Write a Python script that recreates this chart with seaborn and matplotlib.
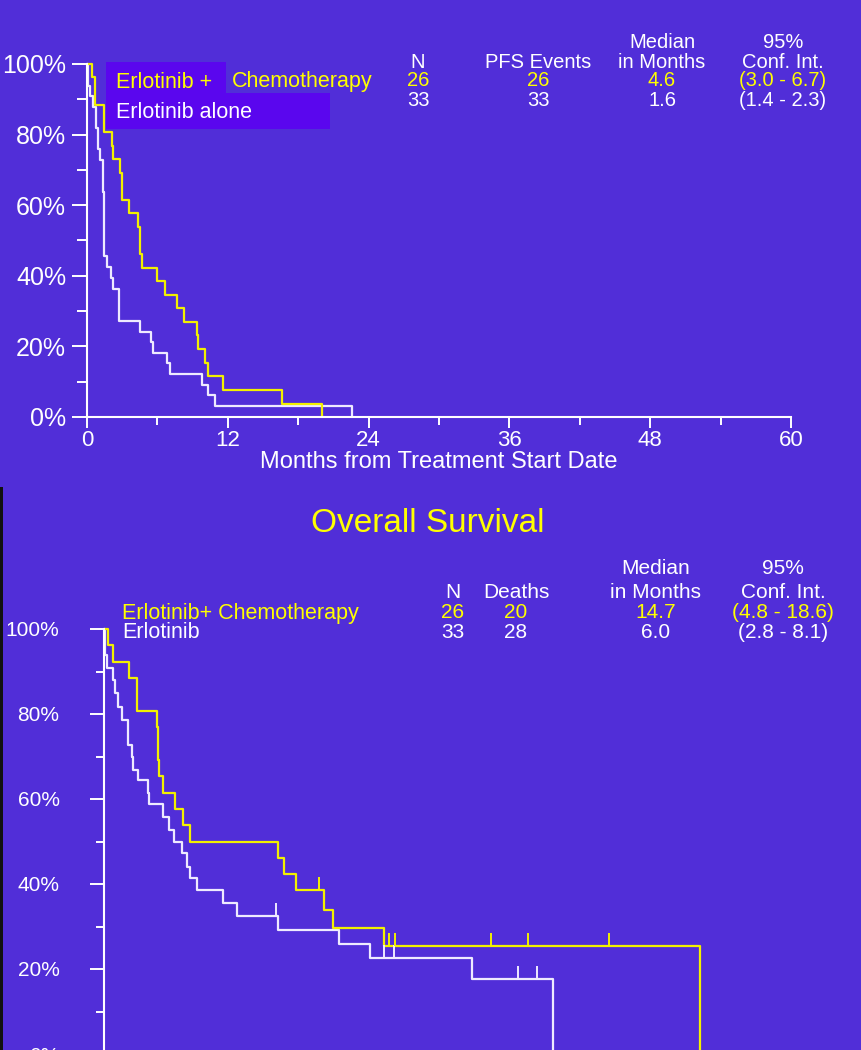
import numpy as np
import pandas as pd
import matplotlib
matplotlib.use("Agg")
import matplotlib.pyplot as plt
from matplotlib.patches import Rectangle
import seaborn as sns

# --- Data: progression free survival (top) ---
pfs_combo_months = [0, 0.45, 0.68, 1.45, 2.1, 2.25, 2.8, 2.95, 3.6, 4.37, 4.5, 4.7, 6.0, 6.65,
                    7.7, 8.3, 9.35, 9.5, 10.05, 10.3, 11.6, 16.6, 20.0]
pfs_combo_pct = [100, 96.2, 88.5, 80.8, 76.9, 73.1, 69.2, 61.5, 57.7, 53.8, 46.2, 42.3, 38.5, 34.6,
                 30.8, 26.9, 23.1, 19.2, 15.4, 11.5, 7.7, 3.8, 0]
pfs_alone_months = [0, 0.05, 0.25, 0.55, 0.75, 0.95, 1.15, 1.33, 1.45, 1.7, 2.05, 2.2, 2.75, 4.5,
                    5.45, 5.6, 6.8, 7.05, 9.8, 10.3, 10.9, 22.6]
pfs_alone_pct = [100, 93.9, 90.9, 87.9, 81.8, 75.8, 72.7, 63.6, 45.5, 42.4, 39.4, 36.4, 27.3, 24.2,
                 21.2, 18.2, 15.2, 12.1, 9.1, 6.1, 3.0, 0]

# --- Data: overall survival (bottom) ---
os_combo_months = [0, 0.37, 0.74, 2.13, 2.79, 4.49, 4.6, 4.71, 5.06, 6.05, 6.76, 7.33, 14.86,
                   15.37, 16.37, 18.78, 19.5, 23.85, 50.8]
os_combo_pct = [100, 96.2, 92.3, 88.5, 80.8, 76.9, 69.2, 65.4, 61.5, 57.7, 53.8, 50.0, 46.2,
                42.3, 38.5, 34.0, 29.7, 25.4, 0]
os_combo_cens_months = [18.3, 24.3, 24.8, 33.0, 36.1, 43.0]
os_combo_cens_pct = [38.5, 25.4, 25.4, 25.4, 25.4, 25.4]
os_alone_months = [0, 0.09, 0.28, 0.79, 0.94, 1.22, 1.56, 2.07, 2.36, 2.5, 2.92, 3.78, 3.86,
                   5.06, 5.54, 6.0, 6.62, 7.1, 7.33, 7.9, 10.17, 11.31, 14.8, 20.06, 22.7,
                   31.37, 38.3]
os_alone_pct = [100, 94.0, 90.8, 88.0, 84.9, 81.7, 78.6, 72.7, 70.0, 66.8, 64.5, 61.4, 58.8,
                55.8, 52.7, 50.0, 47.2, 44.1, 41.3, 38.6, 35.5, 32.5, 29.2, 25.9, 22.7,
                17.7, 0]
os_alone_cens_months = [14.7, 23.9, 24.7, 35.3, 36.9]
os_alone_cens_pct = [32.5, 22.7, 22.7, 17.7, 17.7]

# --- Table texts ---
pfs_headers = [("N", "", 418), ("PFS Events", "", 538), ("in Months", "Median", 662),
               ("Conf. Int.", "95%", 783)]
pfs_row_combo = ["26", "26", "4.6", "(3.0 - 6.7)"]
pfs_row_alone = ["33", "33", "1.6", "(1.4 - 2.3)"]
os_headers = [("N", "", 453), ("Deaths", "", 516), ("in Months", "Median", 656),
              ("Conf. Int.", "95%", 783)]
os_row_combo = ["26", "20", "14.7", "(4.8 - 18.6)"]
os_row_alone = ["33", "28", "6.0", "(2.8 - 8.1)"]

BG = "#512ED8"
BOX = "#5A06EE"
YEL = "#FFFF00"
YEL_LINE = "#F2F000"
WHT = "#FFFFFF"
WHT_LINE = "#EEEAFF"

sns.set_theme(style="ticks")
plt.rcParams["font.family"] = ["Liberation Sans", "DejaVu Sans"]

W, H = 861, 1050
fig = plt.figure(figsize=(W / 100, H / 100), dpi=100, facecolor=BG)


def fx(x):
    return x / W


def fy(y):
    return 1 - y / H


def km(ax, months, pct, color):
    sns.lineplot(x=months, y=pct, ax=ax, color=color, drawstyle="steps-post",
                 estimator=None, sort=False, lw=1.6, clip_on=False)


def censor(ax, months, pct, color):
    sns.scatterplot(x=months, y=pct, ax=ax, marker=[(0, 0), (0, 1)], s=330,
                    color=color, edgecolor=color, linewidth=1.4, clip_on=False, zorder=3)


def style_axes(ax):
    ax.set_facecolor("none")
    for s in ["top", "right"]:
        ax.spines[s].set_visible(False)
    for s in ["left", "bottom"]:
        ax.spines[s].set_color(WHT)
        ax.spines[s].set_linewidth(1.5)
    ax.set_ylim(0, 100)
    ax.set_xlim(0, 60)
    ax.set_yticks(range(0, 101, 20))
    ax.set_yticklabels([f"{v}%" for v in range(0, 101, 20)])
    ax.set_yticks(range(10, 100, 20), minor=True)
    ax.set_ylabel("")


# ---------- Top: PFS ----------
ax1 = fig.add_axes([fx(87), fy(417), fx(704), 353 / H])
style_axes(ax1)
km(ax1, pfs_alone_months, pfs_alone_pct, WHT_LINE)
km(ax1, pfs_combo_months, pfs_combo_pct, YEL_LINE)
ax1.set_xticks(range(0, 61, 12))
ax1.set_xticks(range(6, 60, 12), minor=True)
ax1.tick_params(axis="y", which="major", length=11, width=1.4, colors=WHT, labelsize=18, pad=4)
ax1.tick_params(axis="y", which="minor", length=7, width=1.4, colors=WHT)
ax1.tick_params(axis="x", which="major", length=8, width=1.4, colors=WHT, labelsize=16, pad=1)
ax1.tick_params(axis="x", which="minor", length=6, width=1.4, colors=WHT)
ax1.set_xlabel("Months from Treatment Start Date", color=WHT, fontsize=17, labelpad=0)

fig.add_artist(Rectangle((fx(106), fy(93)), fx(120), 31 / H, transform=fig.transFigure,
                         facecolor=BOX, edgecolor="none", zorder=1))
fig.add_artist(Rectangle((fx(106), fy(129)), fx(224), 36 / H, transform=fig.transFigure,
                         facecolor=BOX, edgecolor="none", zorder=1))
fig.text(fx(116), fy(82), "Erlotinib +", color=YEL, fontsize=15.5, va="center", zorder=2)
fig.text(fx(232), fy(82), "Chemotherapy", color=YEL, fontsize=15.5, va="center", zorder=2)
fig.text(fx(116), fy(113), "Erlotinib alone", color=WHT, fontsize=15.5, va="center", zorder=2)

for (line2, line1, xc), v1, v2 in zip(pfs_headers, pfs_row_combo, pfs_row_alone):
    if line1:
        fig.text(fx(xc), fy(42), line1, color=WHT, fontsize=14.5, ha="center", va="center")
    fig.text(fx(xc), fy(62), line2, color=WHT, fontsize=14.5, ha="center", va="center")
    fig.text(fx(xc), fy(81), v1, color=YEL, fontsize=14.5, ha="center", va="center")
    fig.text(fx(xc), fy(100), v2, color=WHT, fontsize=14.5, ha="center", va="center")

# ---------- Bottom: OS ----------
fig.add_artist(Rectangle((0, 0), fx(3), fy(487), transform=fig.transFigure,
                         facecolor="#111111", edgecolor="none", zorder=1))
fig.text(fx(428), fy(523), "Overall Survival", color=YEL, fontsize=24, ha="center", va="center")

ax2 = fig.add_axes([fx(104), fy(1054), fx(704), 425 / H])
style_axes(ax2)
km(ax2, os_alone_months, os_alone_pct, WHT_LINE)
km(ax2, os_combo_months, os_combo_pct, YEL_LINE)
censor(ax2, os_alone_cens_months, os_alone_cens_pct, WHT_LINE)
censor(ax2, os_combo_cens_months, os_combo_cens_pct, YEL_LINE)
ax2.set_xticks([])
ax2.tick_params(axis="y", which="major", length=10, width=1.4, colors=WHT, labelsize=15, pad=22)
ax2.tick_params(axis="y", which="minor", length=6, width=1.4, colors=WHT)
ax2.set_xlabel("")

fig.text(fx(122), fy(613), "Erlotinib+ Chemotherapy", color=YEL, fontsize=15.5, va="center")
fig.text(fx(122), fy(633), "Erlotinib", color=WHT, fontsize=15.5, va="center")
for (line2, line1, xc), v1, v2 in zip(os_headers, os_row_combo, os_row_alone):
    if line1:
        fig.text(fx(xc), fy(569), line1, color=WHT, fontsize=15, ha="center", va="center")
    fig.text(fx(xc), fy(592), line2, color=WHT, fontsize=15, ha="center", va="center")
    fig.text(fx(xc), fy(613), v1, color=YEL, fontsize=15, ha="center", va="center")
    fig.text(fx(xc), fy(633), v2, color=WHT, fontsize=15, ha="center", va="center")

fig.savefig("out.png", dpi=100, facecolor=BG)
